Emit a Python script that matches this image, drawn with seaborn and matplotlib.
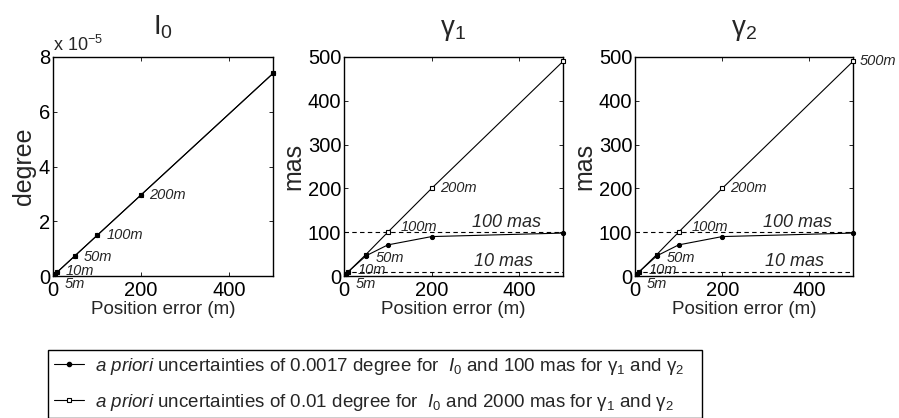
import numpy as np
import pandas as pd
import matplotlib
matplotlib.use("Agg")
import matplotlib.pyplot as plt
import seaborn as sns
from matplotlib.lines import Line2D

# ---- data ----
pos_err = [5, 10, 50, 100, 200, 500]
point_labels = ["5m", "10m", "50m", "100m", "200m", "500m"]
# I0 (degree), both a priori settings give the same values
i0_tight = [0.074e-5, 0.148e-5, 0.74e-5, 1.48e-5, 2.96e-5, 7.4e-5]
i0_loose = [0.074e-5, 0.148e-5, 0.74e-5, 1.48e-5, 2.96e-5, 7.4e-5]
# gamma1 / gamma2 (mas)
g1_tight = [5, 10, 46, 71, 90, 98]
g1_loose = [5, 10, 49, 100, 200, 490]
g2_tight = [5, 10, 46, 71, 90, 98]
g2_loose = [5, 10, 49, 100, 200, 490]
ref_levels = [100, 10]
ref_labels = ["100 mas", "10 mas"]
legend_labels = [
    r"$\mathit{a\ priori}$ uncertainties of 0.0017 degree for  $\mathit{I}_{\mathit{0}}$ and 100 mas for γ$_1$ and γ$_2$",
    r"$\mathit{a\ priori}$ uncertainties of 0.01 degree for  $\mathit{I}_{\mathit{0}}$ and 2000 mas for γ$_1$ and γ$_2$",
]

sns.set_style("ticks")
plt.rcParams["font.family"] = ["Liberation Sans", "DejaVu Sans"]
plt.rcParams["mathtext.fontset"] = "custom"
plt.rcParams["mathtext.rm"] = "Liberation Sans"
plt.rcParams["mathtext.it"] = "Liberation Sans:italic"
plt.rcParams["mathtext.bf"] = "Liberation Sans:bold"
plt.rcParams["axes.linewidth"] = 1.0

W, H = 899, 418
fig = plt.figure(figsize=(W / 100, H / 100), dpi=100)

def frac(l, r, t, b):
    return [l / W, 1 - b / H, (r - l) / W, (b - t) / H]

ax1 = fig.add_axes(frac(53, 273, 57, 276))
ax2 = fig.add_axes(frac(344, 563, 57, 276))
ax3 = fig.add_axes(frac(635, 853, 57, 276))

tick_fs = 14.5
lab_fs = 13.5

def style_axis(ax):
    ax.tick_params(direction="in", length=3, width=0.6, top=True, right=True,
                   labelsize=tick_fs, colors="black")
    ax.tick_params(axis="x", pad=3.5)
    ax.tick_params(axis="y", pad=2)
    for s in ax.spines.values():
        s.set_visible(True)
        s.set_color("black")
    ax.set_xlim(0, 500)
    ax.set_xticks([0, 200, 400])
    ax.set_xlabel("Position error (m)", fontsize=lab_fs, labelpad=1)

def draw_series(ax, ytight, yloose):
    df_l = pd.DataFrame({"x": pos_err, "y": yloose})
    df_t = pd.DataFrame({"x": pos_err, "y": ytight})
    sns.lineplot(data=df_l, x="x", y="y", ax=ax, color="black", lw=0.8,
                 marker="s", markersize=3.3, markerfacecolor="white",
                 markeredgecolor="black", markeredgewidth=0.8, estimator=None,
                 clip_on=False, zorder=3)
    sns.lineplot(data=df_t, x="x", y="y", ax=ax, color="black", lw=0.8,
                 marker="o", markersize=3.0, markerfacecolor="black",
                 markeredgecolor="black", estimator=None, clip_on=False, zorder=3)

def label_points(ax, yvals, offsets, which):
    for i in which:
        dx, dy = offsets[i]
        ax.annotate(point_labels[i], (pos_err[i], yvals[i]), xytext=(dx, dy),
                    textcoords="offset pixels", fontsize=10.5, style="italic",
                    ha="left", va="center", annotation_clip=False)

# ---- I0 panel ----
draw_series(ax1, i0_tight, i0_loose)
style_axis(ax1)
ax1.set_ylim(0, 8e-5)
ax1.set_yticks([0, 2e-5, 4e-5, 6e-5, 8e-5])
ax1.set_yticklabels(["0", "2", "4", "6", "8"])
ax1.set_ylabel("degree", fontsize=18, labelpad=2)
ax1.set_title("I$_0$", fontsize=20, pad=16)
ax1.text(0.0, 1.01, r"x 10$^{-5}$", transform=ax1.transAxes, fontsize=13,
         ha="left", va="bottom")
off1 = {0: (9, -10), 1: (8, 1), 2: (9, -1), 3: (10, 0), 4: (8, 0)}
label_points(ax1, i0_loose, off1, [0, 1, 2, 3, 4])

# ---- gamma panels ----
for ax, yt, yl, title, idx in [(ax2, g1_tight, g1_loose, "γ$_1$", [0, 1, 2, 3, 4]),
                               (ax3, g2_tight, g2_loose, "γ$_2$", [0, 1, 2, 3, 4, 5])]:
    for lev in ref_levels:
        ax.axhline(lev, color="black", lw=0.8, ls=(0, (4, 3)))
    draw_series(ax, yt, yl)
    style_axis(ax)
    ax.set_ylim(0, 500)
    ax.set_yticks([0, 100, 200, 300, 400, 500])
    ax.set_ylabel("mas", fontsize=18, labelpad=2)
    ax.set_title(title, fontsize=20, pad=16)
    ax.text(372, 103, ref_labels[0], fontsize=13, style="italic", ha="center", va="bottom")
    ax.text(365, 13, ref_labels[1], fontsize=13, style="italic", ha="center", va="bottom")
    off = {0: (9, -10), 1: (9, 2), 2: (10, -3), 3: (13, 5), 4: (8, 0), 5: (7, 0)}
    label_points(ax, yl, off, idx)

# ---- legend ----
handles = [
    Line2D([], [], color="black", lw=0.8, marker="o", markersize=3.0,
           markerfacecolor="black"),
    Line2D([], [], color="black", lw=0.8, marker="s", markersize=3.3,
           markerfacecolor="white", markeredgewidth=0.8),
]
leg = fig.legend(handles, legend_labels, loc="upper left",
                 bbox_to_anchor=(48 / W, 1 - 350 / H, (702 - 48) / W, 0.0),
                 mode="expand", fontsize=13.5, frameon=True, fancybox=False,
                 edgecolor="black", framealpha=1, handlelength=1.6,
                 handletextpad=0.6, labelspacing=0.8, borderpad=0.3,
                 borderaxespad=0)
leg.get_frame().set_linewidth(1.0)

fig.savefig("out.png", dpi=100)
